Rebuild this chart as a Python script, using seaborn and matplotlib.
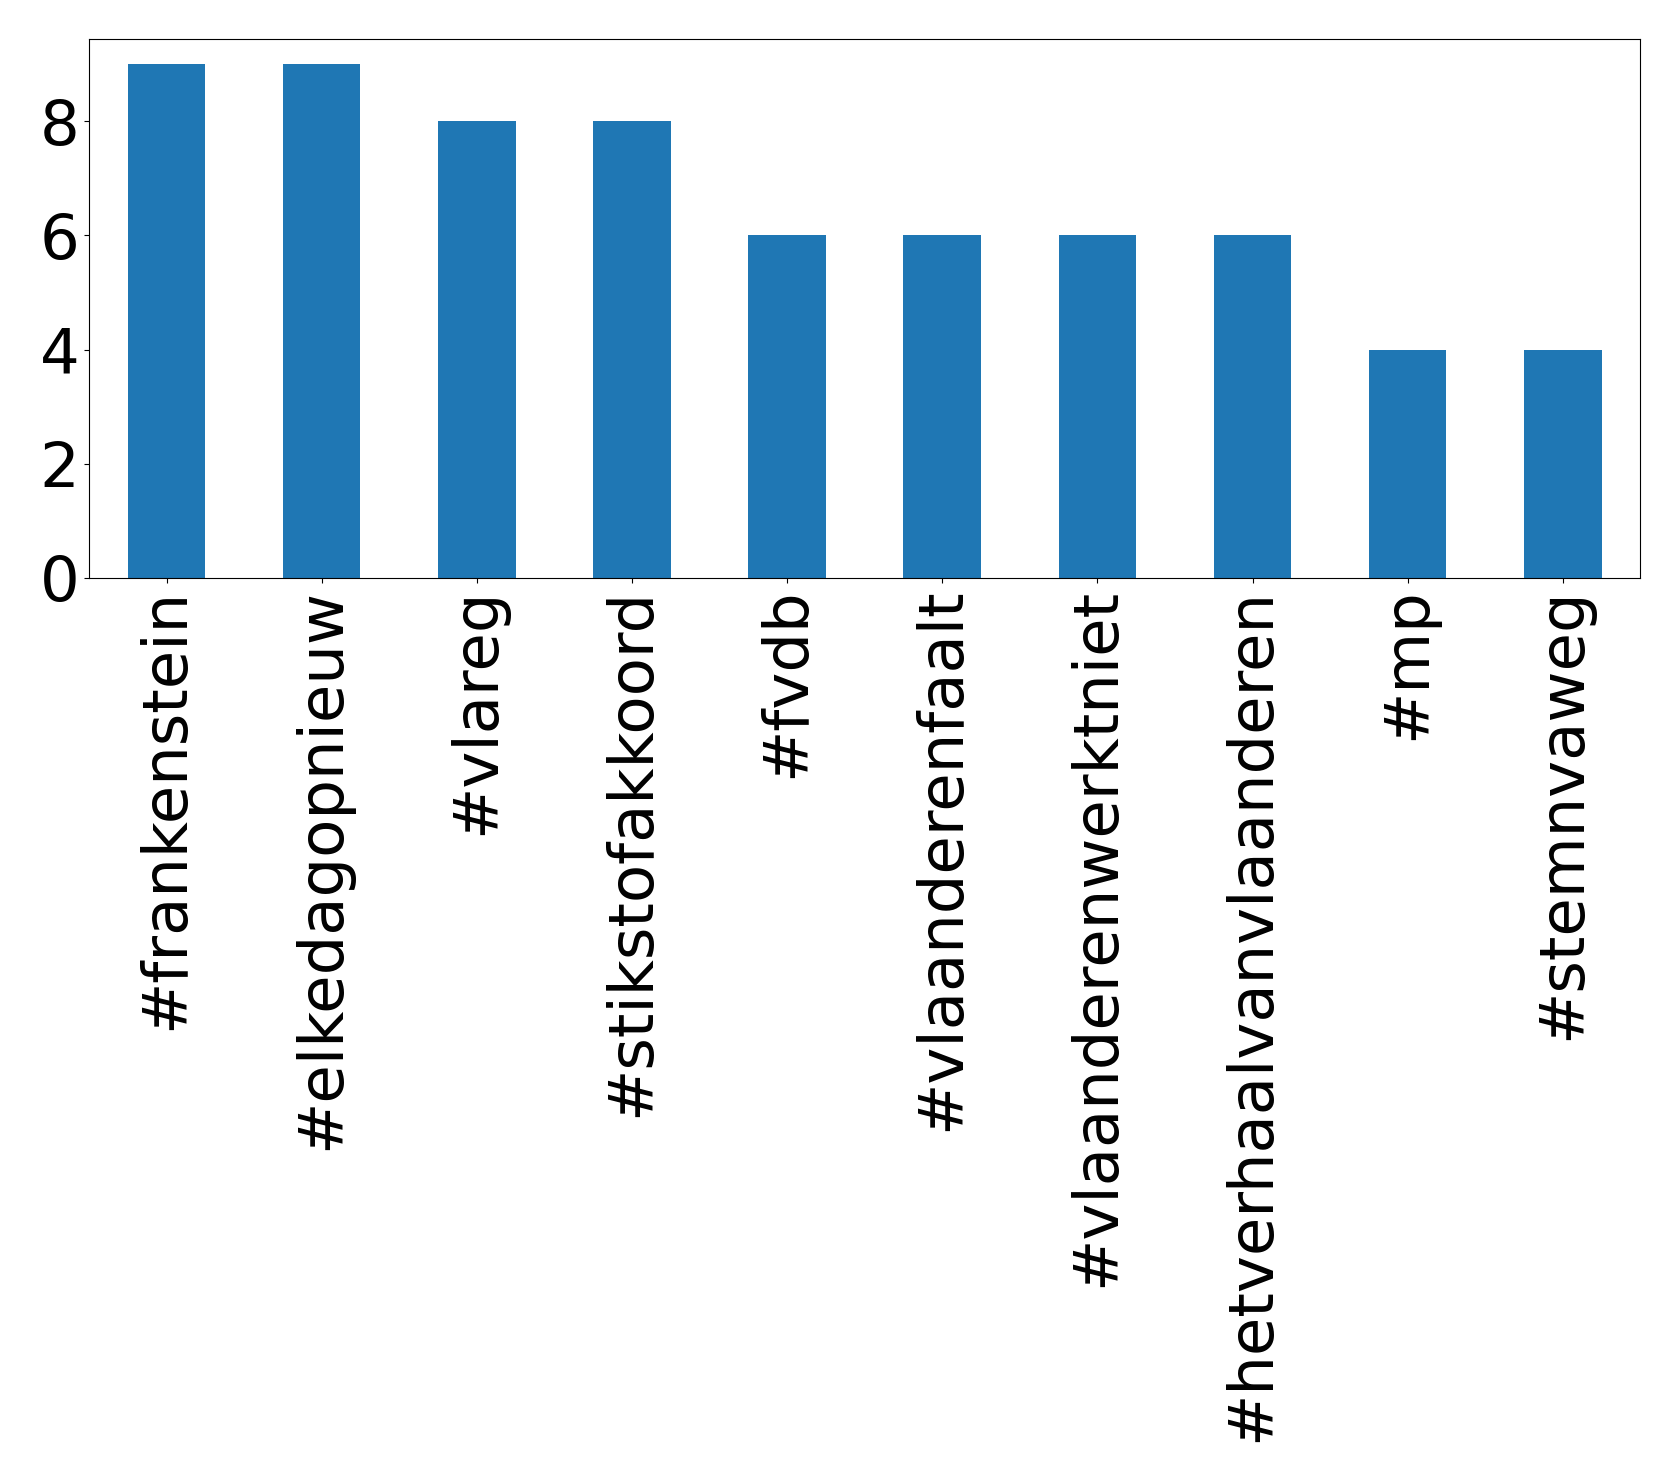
import matplotlib
matplotlib.use("Agg")
import matplotlib.pyplot as plt
import seaborn as sns
import pandas as pd

hashtags = ["#frankenstein", "#elkedagopnieuw", "#vlareg", "#stikstofakkoord",
            "#fvdb", "#vlaanderenfaalt", "#vlaanderenwerktniet",
            "#hetverhaalvanvlaanderen", "#mp", "#stemnvaweg"]
counts = [9, 9, 8, 8, 6, 6, 6, 6, 4, 4]

df = pd.DataFrame({"hashtag": hashtags, "count": counts})

fig = plt.figure(figsize=(16.79, 14.82), dpi=100)
ax = fig.add_axes([0.053, 0.610, 0.924, 0.364])

sns.barplot(data=df, x="hashtag", y="count", color="#1f77b4",
            saturation=1, width=0.5, ax=ax)

ax.set_xlim(-0.5, len(hashtags) - 0.5)
ax.set_xlabel("")
ax.set_ylabel("")
ax.set_yticks([0, 2, 4, 6, 8])
ax.tick_params(axis="both", labelsize=45)
plt.setp(ax.get_xticklabels(), rotation=90)

fig.savefig("out.png", dpi=100)
